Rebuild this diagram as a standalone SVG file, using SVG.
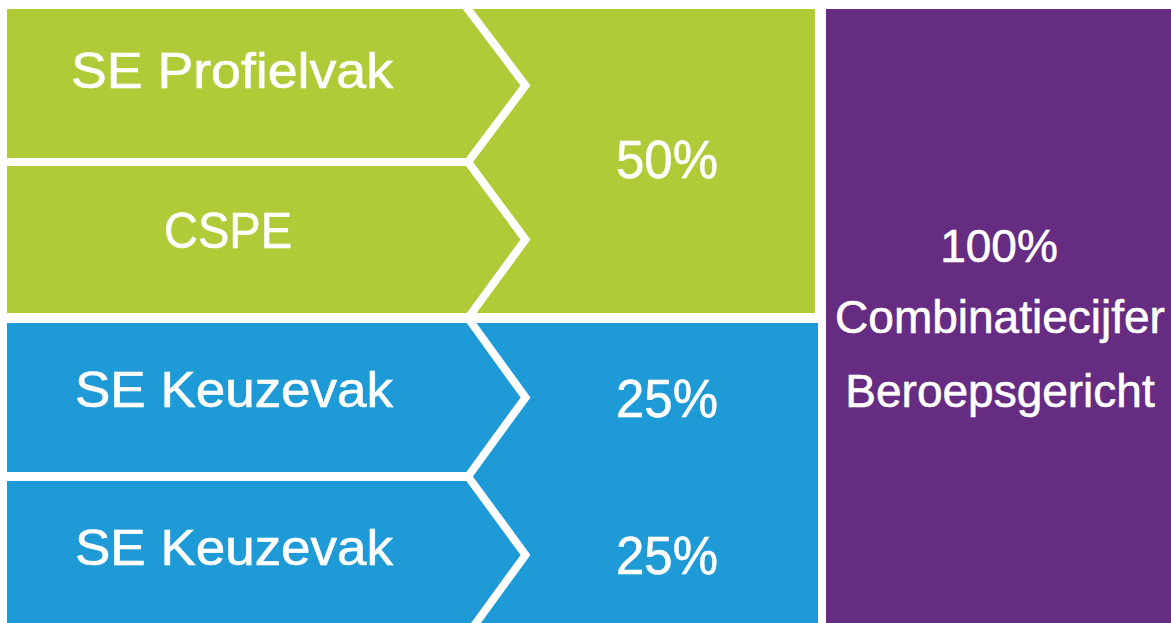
<svg xmlns="http://www.w3.org/2000/svg" width="1171" height="623" viewBox="0 0 1171 623">
<style>
.t{font-family:"Liberation Sans",Arial,Helvetica,sans-serif;fill:#ffffff;stroke:#ffffff;stroke-width:0.6;text-anchor:middle;font-size:50px}
.n{font-size:54px}
.p{font-size:46px}
.div{fill:none;stroke:#ffffff;stroke-width:8;stroke-linejoin:miter;stroke-miterlimit:10}
</style>
<rect x="0" y="0" width="1171" height="623" fill="#ffffff"/>
<g id="green-block">
<rect x="7" y="9" width="808" height="304" fill="#AFCB37"/>
</g>
<g id="blue-block">
<rect x="7" y="323" width="811" height="300" fill="#1E9BD7"/>
</g>
<g id="purple-block">
<rect x="826" y="9" width="345" height="614" fill="#652C82"/>
<text class="t p" x="999" y="262">100%</text>
<text class="t p" x="1000" y="333">Combinatiecijfer</text>
<text class="t p" x="1000" y="407">Beroepsgericht</text>
</g>
<g id="dividers">
<rect x="7" y="158" width="461" height="8" fill="#ffffff"/>
<rect x="7" y="472" width="461" height="9" fill="#ffffff"/>
<polyline class="div" points="461,0 525.5,85.5 468,162 525.5,239.5 468,318"/>
<polyline class="div" points="468,318 525.5,397.5 468,476.5 525.5,555 468,634"/>
</g>
<g id="se-profielvak">
<text class="t" x="232" y="88" textLength="322" lengthAdjust="spacingAndGlyphs">SE Profielvak</text>
</g>
<g id="cspe">
<text class="t" x="228" y="248" font-size="51" textLength="128" lengthAdjust="spacingAndGlyphs">CSPE</text>
</g>
<g id="pct-50">
<text class="t n" x="667" y="178" textLength="102" lengthAdjust="spacingAndGlyphs">50%</text>
</g>
<g id="se-keuzevak-1">
<text class="t" x="234" y="407" textLength="318" lengthAdjust="spacingAndGlyphs">SE Keuzevak</text>
</g>
<g id="pct-25-1">
<text class="t n" x="667" y="417" textLength="102" lengthAdjust="spacingAndGlyphs">25%</text>
</g>
<g id="se-keuzevak-2">
<text class="t" x="234" y="565" textLength="318" lengthAdjust="spacingAndGlyphs">SE Keuzevak</text>
</g>
<g id="pct-25-2">
<text class="t n" x="667" y="574" textLength="102" lengthAdjust="spacingAndGlyphs">25%</text>
</g>
</svg>
